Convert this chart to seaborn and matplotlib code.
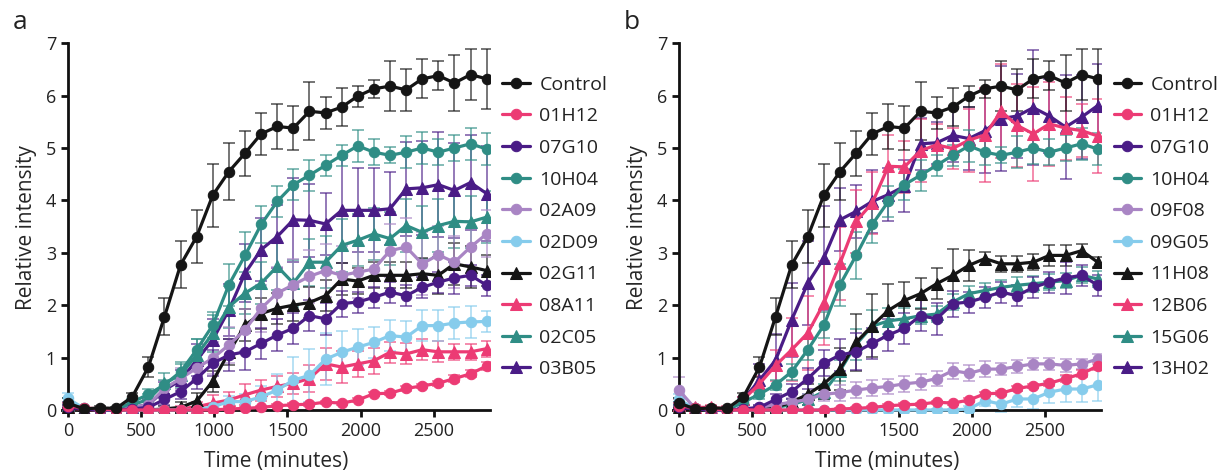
import numpy as np
import matplotlib
matplotlib.use('Agg')
import matplotlib.pyplot as plt
import seaborn as sns

# time points (minutes)
time = [0, 110, 220, 330, 440, 550, 660, 770, 880, 990, 1100, 1210, 1320, 1430,
        1540, 1650, 1760, 1870, 1980, 2090, 2200, 2310, 2420, 2530, 2640, 2750, 2860]

# ---- shared series (both panels) ----
control = [0.13, 0.02, 0.04, 0.03, 0.25, 0.82, 1.78, 2.77, 3.31, 4.1, 4.55, 4.9, 5.27, 5.41,
           5.38, 5.7, 5.67, 5.78, 5.99, 6.13, 6.18, 6.11, 6.32, 6.38, 6.24, 6.4, 6.32]
control_err = [0.1, 0.02, 0.03, 0.03, 0.08, 0.2, 0.35, 0.45, 0.5, 0.6, 0.55, 0.43, 0.4, 0.42,
               0.42, 0.55, 0.3, 0.37, 0.2, 0.17, 0.48, 0.4, 0.37, 0.28, 0.54, 0.48, 0.57]
h01h12 = [0.08, 0.04, 0.02, 0.0, 0.0, 0.0, 0.0, 0.0, 0.0, 0.0, 0.02, 0.03, 0.05, 0.08,
          0.1, 0.11, 0.15, 0.13, 0.19, 0.31, 0.32, 0.41, 0.46, 0.51, 0.6, 0.69, 0.84]
h01h12_err = [0.05, 0.02, 0.02, 0.02, 0.02, 0.02, 0.02, 0.02, 0.02, 0.02, 0.02, 0.02, 0.03, 0.03,
              0.03, 0.03, 0.03, 0.03, 0.03, 0.04, 0.04, 0.04, 0.04, 0.05, 0.06, 0.07, 0.08]
g07g10 = [0.05, 0.02, 0.0, 0.0, 0.02, 0.05, 0.2, 0.35, 0.6, 0.89, 1.05, 1.11, 1.27, 1.43,
          1.56, 1.8, 1.74, 2.03, 2.06, 2.15, 2.25, 2.18, 2.34, 2.44, 2.52, 2.57, 2.38]
g07g10_err = [0.05, 0.02, 0.02, 0.02, 0.02, 0.05, 0.1, 0.15, 0.2, 0.25, 0.3, 0.35, 0.3, 0.3,
              0.3, 0.3, 0.3, 0.25, 0.2, 0.2, 0.2, 0.2, 0.2, 0.2, 0.3, 0.2, 0.2]
h10h04 = [0.12, 0.03, 0.02, 0.0, 0.15, 0.3, 0.48, 0.73, 1.15, 1.62, 2.39, 2.95, 3.54, 3.98,
          4.3, 4.48, 4.67, 4.86, 5.04, 4.92, 4.86, 4.92, 5.0, 4.92, 5.0, 5.08, 4.98]
h10h04_err = [0.1, 0.02, 0.02, 0.02, 0.05, 0.1, 0.1, 0.15, 0.2, 0.25, 0.4, 0.45, 0.35, 0.3,
              0.3, 0.3, 0.2, 0.2, 0.3, 0.25, 0.15, 0.3, 0.3, 0.25, 0.25, 0.3, 0.3]

# ---- panel a only ----
a02a09 = [0.1, 0.02, 0.0, 0.0, 0.05, 0.1, 0.41, 0.6, 0.8, 0.99, 1.24, 1.53, 1.94, 2.23,
          2.39, 2.55, 2.66, 2.57, 2.63, 2.69, 3.04, 3.11, 2.79, 2.96, 2.82, 3.11, 3.36]
a02a09_err = [0.05, 0.02, 0.02, 0.02, 0.02, 0.05, 0.15, 0.2, 0.25, 0.3, 0.35, 0.4, 0.45, 0.5,
              0.5, 0.5, 0.5, 0.55, 0.5, 0.55, 0.5, 0.55, 0.6, 0.55, 0.5, 0.5, 0.45]
d02d09 = [0.22, 0.03, 0.0, 0.0, 0.0, 0.0, 0.0, 0.0, 0.0, 0.06, 0.16, 0.16, 0.25, 0.38,
          0.57, 0.66, 0.97, 1.1, 1.2, 1.29, 1.42, 1.39, 1.61, 1.61, 1.66, 1.68, 1.69]
d02d09_err = [0.1, 0.02, 0.02, 0.02, 0.02, 0.02, 0.02, 0.02, 0.02, 0.05, 0.1, 0.15, 0.2, 0.3,
              0.45, 0.5, 0.5, 0.4, 0.35, 0.3, 0.3, 0.3, 0.3, 0.3, 0.3, 0.3, 0.2]
g02g11 = [0.05, 0.0, 0.0, 0.0, 0.0, 0.0, 0.02, 0.05, 0.17, 0.55, 1.1, 1.62, 1.84, 1.94,
          2.0, 2.05, 2.18, 2.5, 2.46, 2.57, 2.57, 2.57, 2.6, 2.57, 2.79, 2.73, 2.66]
g02g11_err = [0.05, 0.02, 0.02, 0.02, 0.02, 0.02, 0.05, 0.1, 0.15, 0.2, 0.25, 0.3, 0.3, 0.3,
              0.3, 0.3, 0.3, 0.3, 0.25, 0.25, 0.25, 0.25, 0.3, 0.35, 0.4, 0.4, 0.3]
a08a11 = [0.05, 0.0, 0.0, 0.0, 0.0, 0.0, 0.0, 0.02, 0.06, 0.13, 0.19, 0.29, 0.38, 0.45,
          0.51, 0.6, 0.88, 0.82, 0.88, 0.94, 1.1, 1.07, 1.15, 1.11, 1.11, 1.11, 1.17]
a08a11_err = [0.05, 0.02, 0.02, 0.02, 0.02, 0.02, 0.02, 0.05, 0.1, 0.15, 0.15, 0.2, 0.2, 0.2,
              0.2, 0.25, 0.3, 0.3, 0.25, 0.25, 0.2, 0.2, 0.2, 0.2, 0.15, 0.15, 0.15]
c02c05 = [0.1, 0.02, 0.0, 0.0, 0.1, 0.2, 0.51, 0.67, 1.05, 1.46, 1.97, 2.23, 2.42, 2.74,
          2.42, 2.82, 2.82, 3.14, 3.24, 3.36, 3.27, 3.52, 3.39, 3.52, 3.6, 3.59, 3.68]
c02c05_err = [0.05, 0.02, 0.02, 0.02, 0.05, 0.1, 0.2, 0.25, 0.3, 0.35, 0.4, 0.4, 0.4, 0.45,
              0.45, 0.45, 0.5, 0.5, 0.5, 0.5, 0.5, 0.5, 0.5, 0.5, 0.5, 0.5, 0.5]
b03b05 = [0.1, 0.02, 0.0, 0.0, 0.05, 0.1, 0.38, 0.57, 0.95, 1.34, 1.91, 2.61, 3.06, 3.31,
          3.63, 3.62, 3.55, 3.81, 3.81, 3.81, 3.84, 4.22, 4.24, 4.3, 4.19, 4.34, 4.13]
b03b05_err = [0.05, 0.02, 0.02, 0.02, 0.05, 0.1, 0.15, 0.2, 0.3, 0.4, 0.5, 0.55, 0.6, 0.6,
              0.8, 0.7, 0.6, 1.0, 0.8, 0.8, 0.7, 0.9, 0.9, 1.0, 0.9, 0.9, 0.9]

# ---- panel b only ----
f09f08 = [0.38, 0.03, 0.0, 0.0, 0.0, 0.05, 0.1, 0.15, 0.2, 0.3, 0.33, 0.38, 0.42, 0.45,
          0.5, 0.53, 0.6, 0.75, 0.7, 0.78, 0.78, 0.83, 0.88, 0.88, 0.85, 0.88, 0.97]
f09f08_err = [0.25, 0.05, 0.02, 0.02, 0.02, 0.05, 0.05, 0.08, 0.1, 0.12, 0.15, 0.15, 0.15, 0.15,
              0.15, 0.15, 0.15, 0.15, 0.15, 0.15, 0.12, 0.12, 0.12, 0.12, 0.12, 0.1, 0.1]
g09g05 = [0.2, 0.02, 0.0, 0.0, 0.0, 0.0, 0.0, 0.0, 0.0, 0.0, 0.0, 0.0, 0.0, 0.0,
          0.0, 0.0, 0.0, 0.0, 0.02, 0.18, 0.11, 0.21, 0.21, 0.34, 0.4, 0.4, 0.48]
g09g05_err = [0.1, 0.02, 0.02, 0.02, 0.02, 0.02, 0.02, 0.02, 0.02, 0.02, 0.02, 0.02, 0.02, 0.02,
              0.02, 0.02, 0.02, 0.02, 0.05, 0.1, 0.15, 0.15, 0.2, 0.2, 0.25, 0.25, 0.3]
h11h08 = [0.05, 0.0, 0.0, 0.0, 0.0, 0.02, 0.05, 0.15, 0.3, 0.5, 0.78, 1.29, 1.61, 1.9,
          2.09, 2.22, 2.41, 2.57, 2.76, 2.89, 2.79, 2.79, 2.82, 2.95, 2.95, 3.04, 2.82]
h11h08_err = [0.05, 0.02, 0.02, 0.02, 0.02, 0.05, 0.1, 0.15, 0.2, 0.3, 0.4, 0.55, 0.6, 0.5,
              0.35, 0.3, 0.3, 0.5, 0.3, 0.12, 0.15, 0.15, 0.15, 0.2, 0.2, 0.12, 0.1]
b12b06 = [0.1, 0.05, 0.05, 0.02, 0.2, 0.5, 0.85, 1.15, 1.47, 2.04, 2.8, 3.6, 3.95, 4.65,
          4.64, 4.95, 5.06, 4.99, 5.15, 5.25, 5.7, 5.43, 5.27, 5.46, 5.38, 5.33, 5.23]
b12b06_err = [0.1, 0.05, 0.05, 0.05, 0.05, 0.15, 0.3, 0.6, 0.7, 0.8, 0.7, 0.6, 0.6, 0.6,
              0.5, 0.6, 0.4, 0.4, 0.6, 0.9, 0.9, 0.8, 0.9, 0.8, 0.6, 0.5, 0.7]
g15g06 = [0.1, 0.02, 0.0, 0.0, 0.0, 0.02, 0.05, 0.1, 0.2, 0.35, 0.75, 1.25, 1.6, 1.7,
          1.74, 1.8, 1.83, 2.06, 2.22, 2.28, 2.34, 2.38, 2.41, 2.44, 2.47, 2.57, 2.5]
g15g06_err = [0.05, 0.02, 0.02, 0.02, 0.02, 0.05, 0.05, 0.1, 0.1, 0.15, 0.2, 0.3, 0.3, 0.25,
              0.2, 0.15, 0.15, 0.15, 0.15, 0.15, 0.15, 0.15, 0.15, 0.15, 0.15, 0.15, 0.15]
h13h02 = [0.1, 0.02, 0.0, 0.0, 0.2, 0.57, 0.95, 1.72, 2.42, 2.9, 3.63, 3.79, 3.98, 4.11,
          4.27, 5.08, 5.1, 5.24, 5.18, 5.33, 5.56, 5.61, 5.77, 5.61, 5.4, 5.59, 5.81]
h13h02_err = [0.05, 0.02, 0.02, 0.02, 0.05, 0.3, 0.5, 0.7, 0.8, 1.0, 0.6, 0.5, 0.6, 0.5,
              0.5, 0.5, 0.4, 0.5, 0.6, 0.8, 1.0, 0.8, 1.1, 0.7, 1.0, 0.8, 0.8]

# colours
BLACK = '#151515'
PINK = '#ec3b74'
DPURPLE = '#4a1c86'
TEAL = '#2f8d85'
LPURPLE = '#a985c4'
LBLUE = '#86ccec'

panel_a = [
    ('Control', control, control_err, BLACK, 'o'),
    ('01H12', h01h12, h01h12_err, PINK, 'o'),
    ('07G10', g07g10, g07g10_err, DPURPLE, 'o'),
    ('10H04', h10h04, h10h04_err, TEAL, 'o'),
    ('02A09', a02a09, a02a09_err, LPURPLE, 'o'),
    ('02D09', d02d09, d02d09_err, LBLUE, 'o'),
    ('02G11', g02g11, g02g11_err, BLACK, '^'),
    ('08A11', a08a11, a08a11_err, PINK, '^'),
    ('02C05', c02c05, c02c05_err, TEAL, '^'),
    ('03B05', b03b05, b03b05_err, DPURPLE, '^'),
]
panel_b = [
    ('Control', control, control_err, BLACK, 'o'),
    ('01H12', h01h12, h01h12_err, PINK, 'o'),
    ('07G10', g07g10, g07g10_err, DPURPLE, 'o'),
    ('10H04', h10h04, h10h04_err, TEAL, 'o'),
    ('09F08', f09f08, f09f08_err, LPURPLE, 'o'),
    ('09G05', g09g05, g09g05_err, LBLUE, 'o'),
    ('11H08', h11h08, h11h08_err, BLACK, '^'),
    ('12B06', b12b06, b12b06_err, PINK, '^'),
    ('15G06', g15g06, g15g06_err, TEAL, '^'),
    ('13H02', h13h02, h13h02_err, DPURPLE, '^'),
]

sns.set_style('ticks')
plt.rcParams['font.family'] = ['Open Sans', 'DejaVu Sans']
plt.rcParams['text.color'] = '#222222'
plt.rcParams['xtick.color'] = '#222222'
plt.rcParams['ytick.color'] = '#222222'

fig = plt.figure(figsize=(12.2, 4.73), dpi=100)
ax_a = fig.add_axes([0.0508, 0.1277, 0.3505, 0.781])
ax_b = fig.add_axes([0.5517, 0.1277, 0.3505, 0.781])


def draw(ax, series, letter):
    handles = {}
    for name, vals, err, col, mk in reversed(series):
        ax.errorbar(time, vals, yerr=err, fmt='none', ecolor=col, elinewidth=1.1,
                    capsize=4.5, capthick=1.1, alpha=0.75, zorder=2)
        sns.lineplot(x=time, y=vals, ax=ax, color=col, marker=mk, markersize=7.5 if mk == 'o' else 8,
                     markeredgecolor=col, linewidth=2.3, label=name, zorder=3)
    h, l = ax.get_legend_handles_labels()
    for hh, ll in zip(h, l):
        handles[ll] = hh
    names = [s[0] for s in series]
    ax.legend([handles[n] for n in names], names, loc='upper left',
              bbox_to_anchor=(1.03, 0.912), borderaxespad=0, borderpad=0,
              frameon=False, fontsize=14, handlelength=1.4, handletextpad=0.5,
              labelspacing=0.7)
    ax.set_xlim(-40, 2880)
    ax.set_ylim(-0.05, 7)
    ax.set_xticks([0, 500, 1000, 1500, 2000, 2500])
    ax.set_yticks(range(0, 8))
    ax.spines['left'].set_position(('data', 0))
    ax.spines['bottom'].set_position(('data', 0))
    sns.despine(ax=ax)
    for s in ['left', 'bottom']:
        ax.spines[s].set_linewidth(2.0)
        ax.spines[s].set_color('#111111')
    ax.spines['left'].set_bounds(0, 7)
    ax.tick_params(axis='both', width=2.0, length=5, labelsize=13, color='#111111')
    ax.set_xlabel('Time (minutes)', fontsize=15, labelpad=8)
    ax.set_ylabel('Relative intensity', fontsize=15, labelpad=6)
    ax.text(-0.115, 1.09, letter, transform=ax.transAxes, fontsize=19, va='top', ha='left')


draw(ax_a, panel_a, 'a')
draw(ax_b, panel_b, 'b')

fig.savefig('out.png', dpi=100)
